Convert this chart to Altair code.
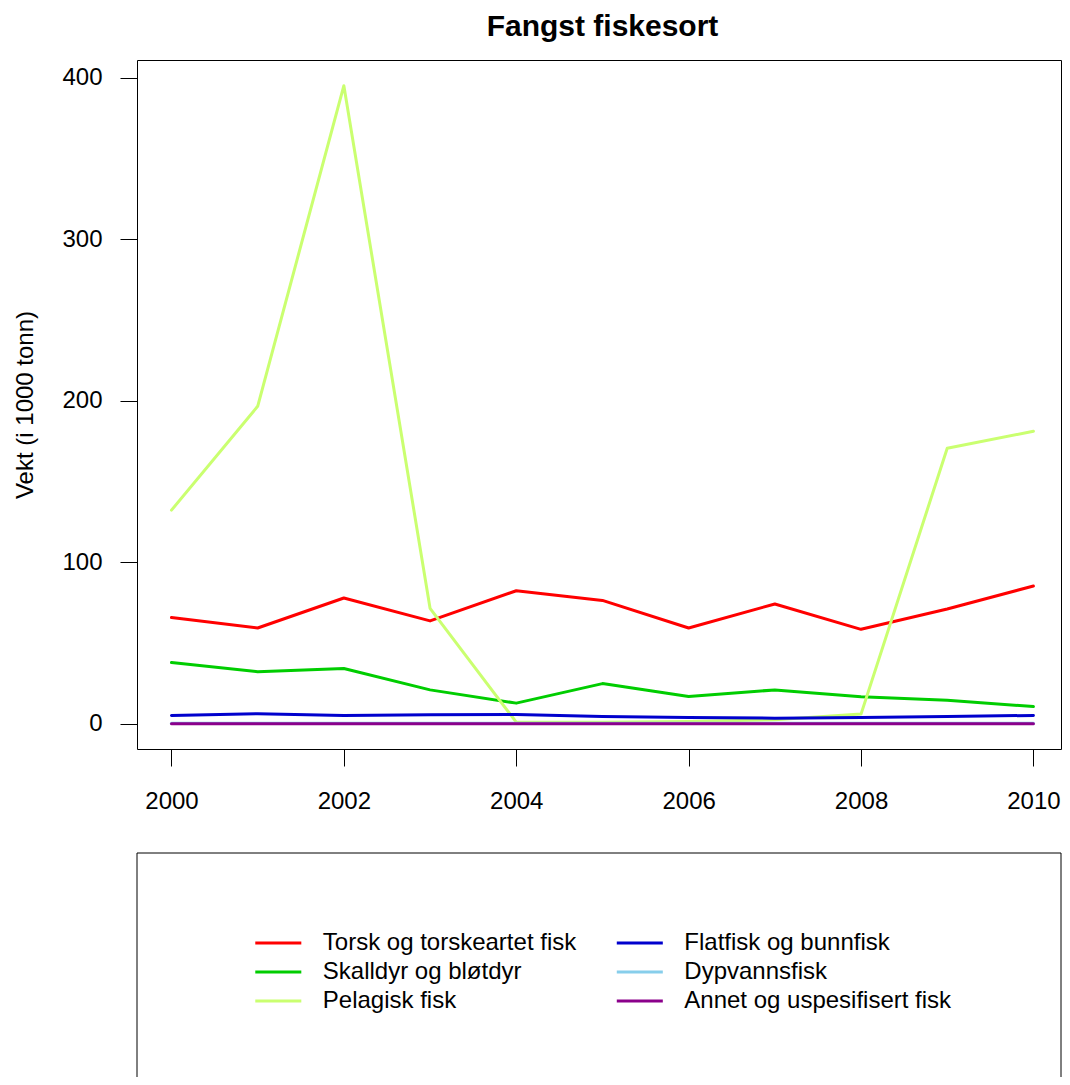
import altair as alt
import pandas as pd

years = [2000, 2001, 2002, 2003, 2004, 2005, 2006, 2007, 2008, 2009, 2010]
series_names = [
    "Torsk og torskeartet fisk",
    "Skalldyr og bløtdyr",
    "Pelagisk fisk",
    "Flatfisk og bunnfisk",
    "Dypvannsfisk",
    "Annet og uspesifisert fisk",
]
series_colors = ["#FF0000", "#00CD00", "#CAFF70", "#0000CD", "#87CEEB", "#8B008B"]

torsk = [65.8, 59.3, 77.9, 63.7, 82.4, 76.4, 59.3, 74.2, 58.5, 71.1, 85.3]
skalldyr = [37.9, 32.3, 34.2, 21.0, 12.8, 24.9, 16.9, 21.0, 16.7, 14.6, 10.7]
pelagisk = [132.3, 196.6, 395.1, 71.5, 1.0, 1.0, 1.5, 2.5, 6.0, 170.6, 181.1]
flatfisk = [5.2, 6.2, 5.2, 5.6, 5.8, 4.5, 3.9, 3.5, 3.9, 4.5, 5.2]
dypvann = [0.3, 0.3, 0.3, 0.3, 0.3, 0.3, 0.3, 0.3, 0.3, 0.3, 0.3]
annet = [0.1, 0.1, 0.1, 0.1, 0.1, 0.1, 0.1, 0.1, 0.1, 0.1, 0.1]

y_ticks = [0, 100, 200, 300, 400]
x_ticks = [2000, 2002, 2004, 2006, 2008, 2010]

title_text = "Fangst fiskesort"
y_title = "Vekt (i 1000 tonn)"

all_values = [torsk, skalldyr, pelagisk, flatfisk, dypvann, annet]
rows = []
for name, vals in zip(series_names, all_values):
    for yr, v in zip(years, vals):
        rows.append({"aar": yr, "vekt": v, "serie": name})
df = pd.DataFrame(rows)

FONT = "Liberation Sans"
W, H = 924, 689

x_enc = alt.X(
    "aar:Q",
    scale=alt.Scale(domain=[1999.6, 2010.32], nice=False, zero=False),
    axis=alt.Axis(
        values=x_ticks, format="d", title=None, tickSize=17, labelPadding=42,
        labelBaseline="alphabetic", labelFontSize=24, labelFont=FONT,
        labelColor="black", tickColor="black", domain=False, grid=False,
        labelFlush=False, labelOverlap=False,
    ),
)
y_enc = alt.Y(
    "vekt:Q",
    scale=alt.Scale(domain=[-15.6, 411.0], nice=False, zero=False),
    axis=alt.Axis(
        values=y_ticks, format="d", title=y_title, tickSize=17, labelPadding=18,
        labelFontSize=24, labelFont=FONT, labelColor="black", tickColor="black",
        domain=False, grid=False, labelFlush=False, labelOverlap=False,
        titleFontSize=24, titleFont=FONT, titleFontWeight="normal", titleColor="black",
        titleX=-105, titleY=344.5, titleAngle=-90, titleBaseline="alphabetic",
        titleAlign="center",
    ),
)
color_enc = alt.Color(
    "serie:N",
    scale=alt.Scale(domain=series_names, range=series_colors),
    legend=alt.Legend(
        orient="none", legendX=129.3, legendY=871, columns=2, title=None,
        symbolType="M-2.5,0H2.5", symbolSize=339, symbolStrokeWidth=3,
        labelFontSize=24, labelFont=FONT, labelColor="black", labelOffset=32.5,
        rowPadding=5, columnPadding=33.5, padding=0, labelLimit=500,
    ),
)

base = alt.Chart(df).mark_line(strokeWidth=3, strokeJoin="round", strokeCap="round").encode(
    x=x_enc, y=y_enc, color=color_enc
)
layers = [base.transform_filter(alt.datum.serie == s) for s in series_names]

box = alt.Chart(pd.DataFrame({"a": [0]})).mark_rect(
    fillOpacity=0, stroke="black", strokeWidth=1
).encode(
    x=alt.value(0), x2=alt.value(W), y=alt.value(793), y2=alt.value(1100)
)

chart = alt.layer(*layers, box).properties(
    width=W,
    height=H,
    title=alt.Title(
        title_text, fontSize=30, font=FONT, fontWeight="bold", color="black",
        anchor="middle", frame="group", offset=18, dx=3.5,
    ),
    autosize=alt.AutoSizeParams(type="none"),
    padding={"left": 129, "top": 52, "right": 1, "bottom": 328},
).configure(
    background="white",
    view=alt.ViewConfig(stroke="black", strokeWidth=1),
)

chart.save("out.html", embed_options={"renderer": "svg", "actions": False})
